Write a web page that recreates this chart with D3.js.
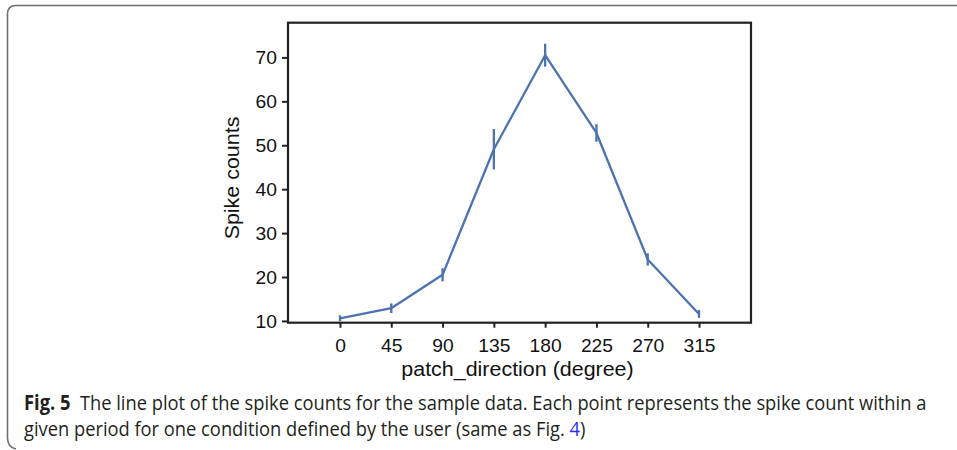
<!DOCTYPE html>
<html>
<head>
<meta charset="utf-8">
<script src="https://cdn.jsdelivr.net/npm/d3@7"></script>
<style>
  body { margin: 0; background: #fff; }
  svg { display: block; }
</style>
</head>
<body>
<svg id="chart" width="957" height="450"></svg>
<script>
// data
const directions = [0, 45, 90, 135, 180, 225, 270, 315];
const spikeMeans = [10.6, 12.9, 20.5, 49.1, 70.5, 52.8, 24.0, 11.6];
const spikeErr = [0.7, 1.1, 1.5, 4.6, 2.6, 2.0, 1.4, 0.9];
const yTicks = [10, 20, 30, 40, 50, 60, 70];

const captionBold = "Fig. 5";
const captionLine1 = "  The line plot of the spike counts for the sample data. Each point represents the spike count within a";
const captionLine2 = "given period for one condition defined by the user (same as Fig. ";

const svg = d3.select("#chart");

// panel border (rounded top-left / bottom-left)
svg.append("path")
  .attr("d", "M957,5.5 L16,5.5 Q7.5,5.5 7.5,14 L7.5,438 Q7.5,447 16,449")
  .attr("fill", "none")
  .attr("stroke", "#6e6e6e")
  .attr("stroke-width", 1.6);

const plot = { left: 288, right: 751, top: 22.7, bottom: 322.7 };
const stretch = 1.1;
const lineColor = "#4c72b0";

const x = d3.scaleLinear().domain([-45.6, 360.6]).range([plot.left, plot.right]);
const y = d3.scaleLinear().domain([9.6, 77.9]).range([plot.bottom, plot.top]);

const data = directions.map((d, i) => ({ dir: d, mean: spikeMeans[i], err: spikeErr[i] }));

// axes
const yAxis = svg.append("g")
  .attr("transform", `translate(${plot.left},0)`)
  .call(d3.axisLeft(y).tickValues(yTicks).tickSize(6).tickPadding(5));

const xAxis = svg.append("g")
  .attr("transform", `translate(0,${plot.bottom})`)
  .call(d3.axisBottom(x).tickValues(directions).tickSize(5).tickPadding(11.8));

[xAxis, yAxis].forEach((g) => {
  g.select(".domain").remove();
  g.selectAll(".tick line").attr("stroke", "#222").attr("stroke-width", 2);
  g.selectAll(".tick text")
    .attr("fill", "#111")
    .style("font-family", "'Liberation Sans', Arial, sans-serif")
    .style("font-size", "17.5px");
});

yAxis.selectAll(".tick text")
  .attr("x", -11 / stretch)
  .attr("dy", "0.36em")
  .attr("transform", `scale(${stretch},1)`);
xAxis.selectAll(".tick text")
  .attr("transform", `scale(${stretch},1)`);

// frame
svg.append("rect")
  .attr("x", plot.left)
  .attr("y", plot.top)
  .attr("width", plot.right - plot.left)
  .attr("height", plot.bottom - plot.top)
  .attr("fill", "none")
  .attr("stroke", "#222")
  .attr("stroke-width", 2.2);

// line
const line = d3.line()
  .x((d) => x(d.dir))
  .y((d) => y(d.mean));

svg.append("path")
  .datum(data)
  .attr("d", line)
  .attr("fill", "none")
  .attr("stroke", lineColor)
  .attr("stroke-width", 2.3)
  .attr("stroke-linejoin", "round");

// error bars
svg.append("g")
  .selectAll("line")
  .data(data)
  .join("line")
  .attr("x1", (d) => x(d.dir))
  .attr("x2", (d) => x(d.dir))
  .attr("y1", (d) => y(d.mean - d.err))
  .attr("y2", (d) => y(d.mean + d.err))
  .attr("stroke", lineColor)
  .attr("stroke-width", 2.3);

// axis labels
const labelFont = "'Liberation Sans', Arial, sans-serif";

svg.append("text")
  .attr("transform", `translate(${(plot.left + plot.right) / 2 - 2},376) scale(${stretch},1)`)
  .attr("text-anchor", "middle")
  .style("font-family", labelFont)
  .style("font-size", "19.5px")
  .attr("fill", "#111")
  .text("patch_direction (degree)");

svg.append("text")
  .attr("transform", `translate(239,178) rotate(-90) scale(${stretch},1)`)
  .attr("text-anchor", "middle")
  .style("font-family", labelFont)
  .style("font-size", "19.5px")
  .attr("fill", "#111")
  .text("Spike counts");

// caption, squeezed to the measured line width
const capFont = "'Open Sans', 'Noto Sans', sans-serif";
const cap = svg.append("g");

const t1 = cap.append("text")
  .attr("x", 0).attr("y", 0)
  .style("font-family", capFont)
  .style("font-size", "20.5px")
  .attr("fill", "#231f20")
  .style("white-space", "pre");
t1.append("tspan").style("font-weight", "bold").text(captionBold);
t1.append("tspan").text(captionLine1);

const t2 = cap.append("text")
  .attr("x", 0).attr("y", 26)
  .style("font-family", capFont)
  .style("font-size", "20.5px")
  .attr("fill", "#231f20")
  .style("white-space", "pre");
t2.append("tspan").text(captionLine2);
t2.append("tspan").attr("fill", "#2b2bff").text("4");
t2.append("tspan").text(")");

const w1 = t1.node().getComputedTextLength();
const sx = 903 / w1;
cap.attr("transform", `translate(24,410) scale(${sx},1)`);
</script>
</body>
</html>
